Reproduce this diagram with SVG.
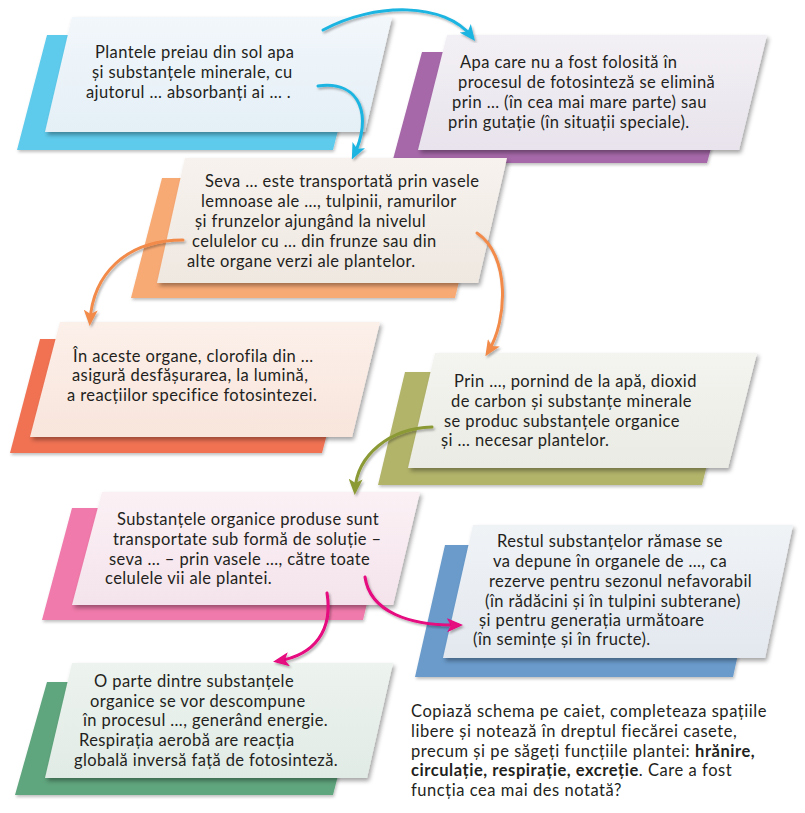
<svg xmlns="http://www.w3.org/2000/svg" width="805" height="813" viewBox="0 0 805 813">
<defs>
<style>
text{font-family:Lato,"Noto Sans","Liberation Sans",sans-serif;font-size:16.5px;letter-spacing:0.4px;fill:#231f20}
.t9{font-size:16.5px;letter-spacing:0.55px}
.b{font-weight:bold}
.front{filter:url(#sh)}
.back{filter:url(#sh2)}
.arr{fill:none;stroke-width:3;stroke-linecap:round;filter:url(#ash)}
</style>
<filter id="sh" x="-10%" y="-10%" width="125%" height="130%"><feDropShadow dx="2" dy="3" stdDeviation="2" flood-color="#000" flood-opacity="0.35"/></filter>
<filter id="sh2" x="-10%" y="-10%" width="125%" height="130%"><feDropShadow dx="1" dy="2" stdDeviation="1.5" flood-color="#000" flood-opacity="0.25"/></filter>
<filter id="ash" x="-20%" y="-20%" width="140%" height="140%"><feDropShadow dx="1.5" dy="2" stdDeviation="1" flood-color="#000" flood-opacity="0.3"/></filter>
<linearGradient id="g1" x1="0" y1="0" x2="0" y2="1"><stop offset="0" stop-color="#f2f7fb"/><stop offset="1" stop-color="#e4eff6"/></linearGradient>
<linearGradient id="g2" x1="0" y1="0" x2="0" y2="1"><stop offset="0" stop-color="#f3f0f5"/><stop offset="1" stop-color="#e8e3ec"/></linearGradient>
<linearGradient id="g3" x1="0" y1="0" x2="0" y2="1"><stop offset="0" stop-color="#f7f2ee"/><stop offset="1" stop-color="#efe8e1"/></linearGradient>
<linearGradient id="g4" x1="0" y1="0" x2="0" y2="1"><stop offset="0" stop-color="#fcf0ea"/><stop offset="1" stop-color="#f8e5dc"/></linearGradient>
<linearGradient id="g5" x1="0" y1="0" x2="0" y2="1"><stop offset="0" stop-color="#f4f4f0"/><stop offset="1" stop-color="#eaebe4"/></linearGradient>
<linearGradient id="g6" x1="0" y1="0" x2="0" y2="1"><stop offset="0" stop-color="#fbf1f5"/><stop offset="1" stop-color="#f4e3eb"/></linearGradient>
<linearGradient id="g7" x1="0" y1="0" x2="0" y2="1"><stop offset="0" stop-color="#f0f3f6"/><stop offset="1" stop-color="#e3e8ef"/></linearGradient>
<linearGradient id="g8" x1="0" y1="0" x2="0" y2="1"><stop offset="0" stop-color="#edf3ef"/><stop offset="1" stop-color="#e1ebe5"/></linearGradient>
<marker id="mc" markerUnits="userSpaceOnUse" markerWidth="16" markerHeight="14" viewBox="0 0 16 14" refX="11" refY="7" orient="auto"><path d="M0,0 L16,7 L0,14 L4,7 Z" fill="#1cb4e1"/></marker>
<marker id="mo" markerUnits="userSpaceOnUse" markerWidth="16" markerHeight="14" viewBox="0 0 16 14" refX="11" refY="7" orient="auto"><path d="M0,0 L16,7 L0,14 L4,7 Z" fill="#f28a4a"/></marker>
<marker id="mg" markerUnits="userSpaceOnUse" markerWidth="16" markerHeight="14" viewBox="0 0 16 14" refX="11" refY="7" orient="auto"><path d="M0,0 L16,7 L0,14 L4,7 Z" fill="#8c9a36"/></marker>
<marker id="mm" markerUnits="userSpaceOnUse" markerWidth="16" markerHeight="14" viewBox="0 0 16 14" refX="11" refY="7" orient="auto"><path d="M0,0 L16,7 L0,14 L4,7 Z" fill="#e6077f"/></marker>
</defs>
<rect width="805" height="813" fill="#ffffff"/>

<g id="node1">
<polygon class="back" points="47,35 362,35 333,150 17,150" fill="#5ecbec"/>
<polygon class="front" points="72,17 392,17 365,132 45,132" fill="url(#g1)"/>
<text x="95" y="58">Plantele preiau din sol apa</text>
<text x="92" y="78">și substanțele minerale, cu</text>
<text x="86" y="98">ajutorul … absorbanți ai … .</text>
</g>

<g id="node2">
<polygon class="back" points="422,52 737,52 707,163 392,163" fill="#a668a9"/>
<polygon class="front" points="447,35 767,35 739,150 418,150" fill="url(#g2)"/>
<text x="460" y="68">Apa care nu a fost folosită în</text>
<text x="458" y="88">procesul de fotosinteză se elimină</text>
<text x="452" y="108">prin … (în cea mai mare parte) sau</text>
<text x="448" y="128">prin gutație (în situații speciale).</text>
</g>

<g id="node3">
<polygon class="back" points="162,178 484,178 455,298 131,298" fill="#f8aa74"/>
<polygon class="front" points="185,158 507,158 478,283 157,283" fill="url(#g3)"/>
<text x="205" y="187">Seva … este transportată prin vasele</text>
<text x="201" y="207">lemnoase ale …, tulpinii, ramurilor</text>
<text x="195" y="227">și frunzelor ajungând la nivelul</text>
<text x="192" y="247">celulelor cu … din frunze sau din</text>
<text x="187" y="267">alte organe verzi ale plantelor.</text>
</g>

<g id="node4">
<polygon class="back" points="40,339 352,339 322,453 10,453" fill="#f07253"/>
<polygon class="front" points="60,322 380,322 352,437 30,437" fill="url(#g4)"/>
<text x="73" y="362">În aceste organe, clorofila din …</text>
<text x="72" y="381">asigură desfășurarea, la lumină,</text>
<text x="67" y="401">a reacțiilor specifice fotosintezei.</text>
</g>

<g id="node5">
<polygon class="back" points="405,372 730,372 702,485 378,485" fill="#b2b46a"/>
<polygon class="front" points="435,353 757,353 728,468 408,468" fill="url(#g5)"/>
<text x="454" y="387">Prin …, pornind de la apă, dioxid</text>
<text x="451" y="407">de carbon și substanțe minerale</text>
<text x="444" y="427">se produc substanțele organice</text>
<text x="441" y="446">și … necesar plantelor.</text>
</g>

<g id="node6">
<polygon class="back" points="72,508 390,508 363,620 42,620" fill="#f07aab"/>
<polygon class="front" points="102,492 420,492 393,605 72,605" fill="url(#g6)"/>
<text x="117" y="525">Substanțele organice produse sunt</text>
<text x="113" y="545">transportate sub formă de soluție –</text>
<text x="109" y="565">seva … – prin vasele …, către toate</text>
<text x="105" y="584">celulele vii ale plantei.</text>
</g>

<g id="node7">
<polygon class="back" points="445,545 762,545 733,677 415,677" fill="#6a9bcb"/>
<polygon class="front" points="473,525 793,525 765,658 443,658" fill="url(#g7)"/>
<text x="497" y="547">Restul substanțelor rămase se</text>
<text x="493" y="567">va depune în organele de …, ca</text>
<text x="489" y="587">rezerve pentru sezonul nefavorabil</text>
<text x="485" y="607">(în rădăcini și în tulpini subterane)</text>
<text x="479" y="626">și pentru generația următoare</text>
<text x="473" y="645">(în semințe și în fructe).</text>
</g>

<g id="node8">
<polygon class="back" points="47,682 362,682 333,795 15,795" fill="#5fa57d"/>
<polygon class="front" points="72,663 393,663 367,778 45,778" fill="url(#g8)"/>
<text x="94" y="687">O parte dintre substanțele</text>
<text x="90" y="707">organice se vor descompune</text>
<text x="83" y="726">în procesul …, generând energie.</text>
<text x="79" y="746">Respirația aerobă are reacția</text>
<text x="74" y="766">globală inversă față de fotosinteză.</text>
</g>

<g id="note">
<text class="t9" x="411" y="717">Copiază schema pe caiet, completeaza spațiile</text>
<text class="t9" x="411" y="737">libere și notează în dreptul fiecărei casete,</text>
<text class="t9" x="411" y="757">precum și pe săgeți funcțiile plantei: <tspan class="b">hrănire,</tspan></text>
<text class="t9" x="411" y="776"><tspan class="b">circulație, respirație, excreție</tspan>. Care a fost</text>
<text class="t9" x="411" y="796">funcția cea mai des notată?</text>
</g>

<g id="connectors">
<path class="arr" d="M323,30 C375,2 445,2 472,37" stroke="#1cb4e1" marker-end="url(#mc)"/>
<path class="arr" d="M318,86 C362,80 372,118 354,155" stroke="#1cb4e1" marker-end="url(#mc)"/>
<path class="arr" d="M183,240 C125,240 93,275 90,321" stroke="#f28a4a" marker-end="url(#mo)"/>
<path class="arr" d="M477,233 C510,255 508,320 488,352" stroke="#f28a4a" marker-end="url(#mo)"/>
<path class="arr" d="M432,427 C390,428 357,455 355,490" stroke="#8c9a36" marker-end="url(#mg)"/>
<path class="arr" d="M327,593 C333,630 315,655 278,661" stroke="#e6077f" marker-end="url(#mm)"/>
<path class="arr" d="M365,577 C370,612 410,626 458,625" stroke="#e6077f" marker-end="url(#mm)"/>
</g>
</svg>
